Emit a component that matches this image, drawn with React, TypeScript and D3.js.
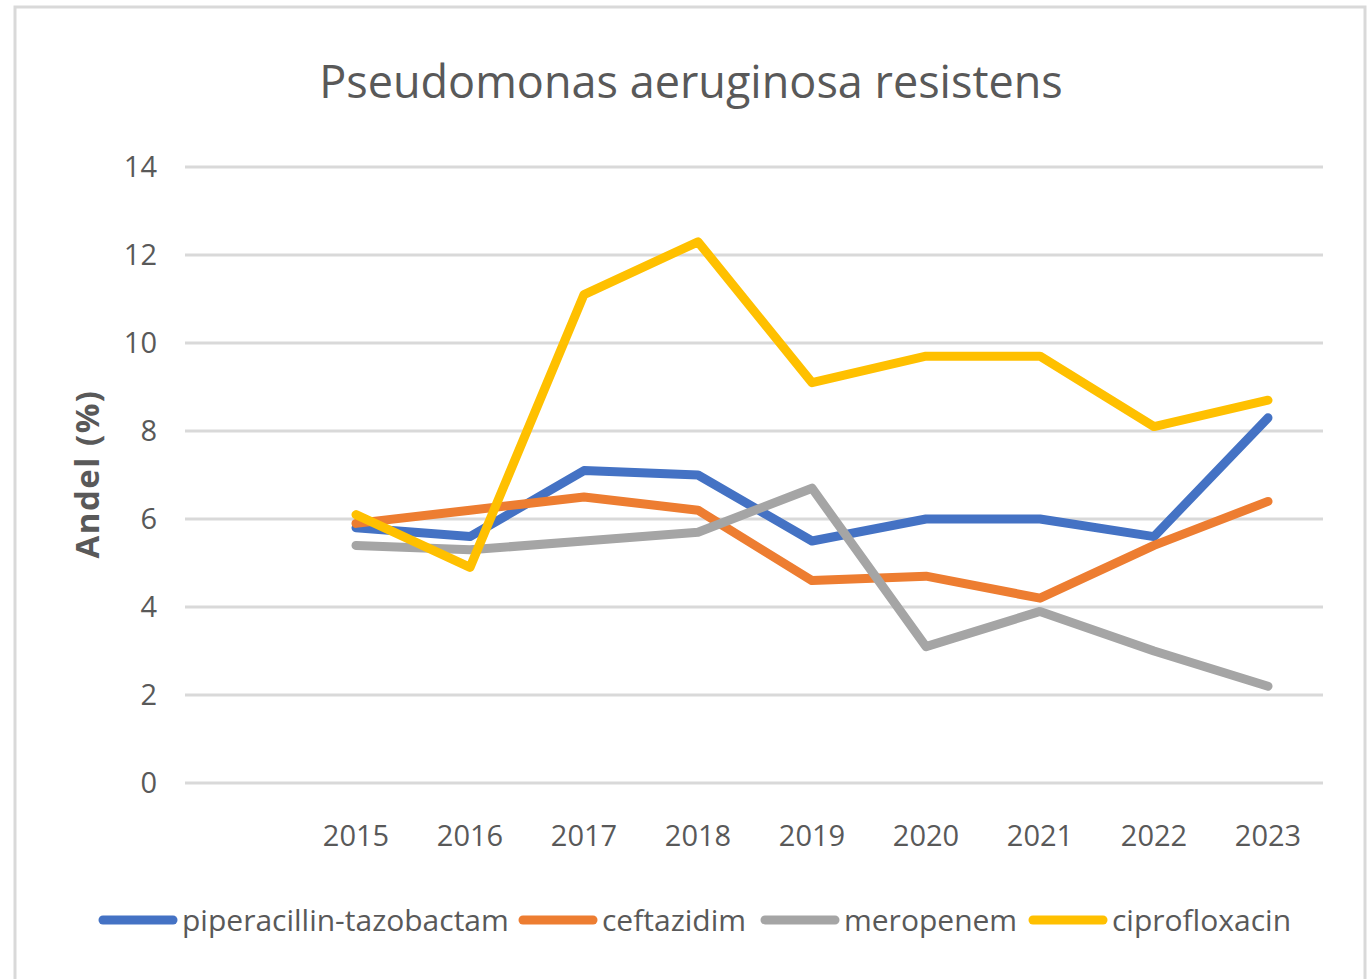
import React from "react";
import * as d3 from "d3";

const categories = ["", "2015", "2016", "2017", "2018", "2019", "2020", "2021", "2022", "2023"];
const years = ["2015", "2016", "2017", "2018", "2019", "2020", "2021", "2022", "2023"];
const piperacillin = [5.8, 5.6, 7.1, 7.0, 5.5, 6.0, 6.0, 5.6, 8.3];
const ceftazidim = [5.9, 6.2, 6.5, 6.2, 4.6, 4.7, 4.2, 5.4, 6.4];
const meropenem = [5.4, 5.3, 5.5, 5.7, 6.7, 3.1, 3.9, 3.0, 2.2];
const ciprofloxacin = [6.1, 4.9, 11.1, 12.3, 9.1, 9.7, 9.7, 8.1, 8.7];
const yTicks = [0, 2, 4, 6, 8, 10, 12, 14];
const seriesNames = ["piperacillin-tazobactam", "ceftazidim", "meropenem", "ciprofloxacin"];
const seriesColors = ["#4472C4", "#ED7D31", "#A5A5A5", "#FFC000"];
const seriesData = [piperacillin, ceftazidim, meropenem, ciprofloxacin];

const W = 1371;
const H = 979;
const FONT = "'Open Sans', sans-serif";
const TXT = "#595959";

export default function App() {
  const x = d3.scaleBand<string>().domain(categories).range([185, 1325]);
  const y = d3.scaleLinear().domain([0, 14]).range([783, 167]);
  const line = d3
    .line<number>()
    .x((_, i) => (x(years[i]) as number) + x.bandwidth() / 2)
    .y((d) => y(d));

  const legendX = [103, 523, 765, 1033];

  return (
    <svg
      width={W}
      height={H}
      style={{ position: "absolute", left: 0, top: 0, background: "#fff" }}
      fontFamily={FONT}
    >
      <rect x={15} y={7} width={1350} height={1000} fill="#fff" stroke="#d9d9d9" strokeWidth={3} />
      <text x={691} y={98} textAnchor="middle" fontSize={45} fill={TXT}>
        Pseudomonas aeruginosa resistens
      </text>
      {yTicks.map((t) => (
        <g key={t}>
          <line x1={185} x2={1323} y1={y(t)} y2={y(t)} stroke="#d9d9d9" strokeWidth={3} />
          <text x={157} y={y(t) + 10} textAnchor="end" fontSize={29} fill={TXT}>
            {t}
          </text>
        </g>
      ))}
      {years.map((yr) => (
        <text
          key={yr}
          x={(x(yr) as number) + x.bandwidth() / 2}
          y={846}
          textAnchor="middle"
          fontSize={29}
          fill={TXT}
        >
          {yr}
        </text>
      ))}
      <text
        transform={`translate(99,474) rotate(-90)`}
        textAnchor="middle"
        fontSize={33}
        fontWeight="bold"
        letterSpacing={1.5}
        fill={TXT}
      >
        Andel (%)
      </text>
      {seriesData.map((s, i) => (
        <path
          key={i}
          d={line(s) || ""}
          fill="none"
          stroke={seriesColors[i]}
          strokeWidth={9}
          strokeLinejoin="round"
          strokeLinecap="round"
        />
      ))}
      {seriesNames.map((n, i) => (
        <g key={n}>
          <line
            x1={legendX[i]}
            x2={legendX[i] + 70}
            y1={920}
            y2={920}
            stroke={seriesColors[i]}
            strokeWidth={9}
            strokeLinecap="round"
          />
          <text x={legendX[i] + 79} y={931} fontSize={30} fill={TXT}>
            {n}
          </text>
        </g>
      ))}
    </svg>
  );
}
